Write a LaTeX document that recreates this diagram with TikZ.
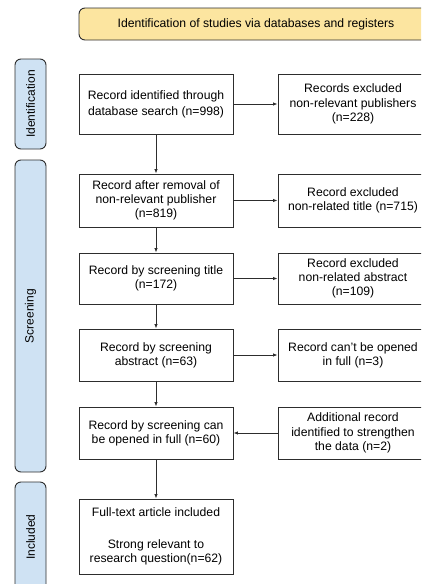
\documentclass[tikz,border=0pt]{standalone}
\usepackage{fontspec}
\setmainfont{Liberation Sans}
\usepackage{tikz}
\usetikzlibrary{positioning,arrows.meta}
\definecolor{hdryellow}{RGB}{252,229,160}
\definecolor{sideblue}{RGB}{207,226,243}
\definecolor{linegray}{RGB}{45,45,45}
\tikzset{
  box/.style={draw=linegray, line width=0.9pt, fill=white, align=center, minimum width=154pt, inner sep=2pt, font=\fontsize{12.2}{14.2}\selectfont},
  rbox/.style={box, minimum width=150pt},
  side/.style={rounded corners=6pt, draw=linegray, line width=0.9pt, fill=sideblue, minimum height=31pt, rotate=90, font=\fontsize{12}{14}\selectfont},
  hdr/.style={rounded corners=6pt, draw=linegray, line width=0.9pt, fill=hdryellow, minimum width=354pt, minimum height=32pt, font=\fontsize{12.2}{14}\selectfont},
  arr/.style={-{Latex[length=4.5pt,width=3.5pt]}, line width=0.8pt, draw=linegray},
}
\begin{document}
\begin{tikzpicture}[x=1pt,y=-1pt]
    \useasboundingbox (0,0) rectangle (421,584);
    \clip (0,0) rectangle (421,584);
    % header + phase labels
    \node[hdr] (head) at (256,24) {Identification of studies via databases and registers};
    \node[side, minimum width=90pt]  (lid)  at (30.5,104) {Identification};
    \node[side, minimum width=312pt] (lscr) at (30.5,316) {Screening};
    \node[side, minimum width=110pt] (linc) at (30.5,537) {Included};
    % main column
    \node[box, minimum height=60pt] (found)  at (156,104)   {Record identified through\\[2pt]database search (n=998)};
    \node[box, minimum height=53pt] (nopub)  at (156,200.5) {Record after removal of\\non-relevant publisher\\(n=819)};
    \node[box, minimum height=51pt] (title)  at (156,278.5) {Record by screening title\\(n=172)};
    \node[box, minimum height=52pt] (abstr)  at (156,355)   {Record by screening\\abstract (n=63)};
    \node[box, minimum height=52pt] (full)   at (156,433)   {Record by screening can\\be opened in full (n=60)};
    \node[box, minimum height=75pt] (incl)   at (156,536.5) {Full-text article included\\[17pt]Strong relevant to\\research question(n=62)};
    % side column
    \node[rbox, minimum height=60pt] (expub)   at (353,104)   {Records excluded\\non-relevant publishers\\(n=228)};
    \node[rbox, minimum height=53pt] (extitle) at (353,200.5) {Record excluded\\non-related title (n=715)};
    \node[rbox, minimum height=51pt] (exabs)   at (353,278.5) {Record excluded\\non-related abstract\\(n=109)};
    \node[rbox, minimum height=52pt] (exfull)  at (353,355)   {Record can't be opened\\in full (n=3)};
    \node[rbox, minimum height=52pt] (extra)   at (353,433)   {Additional record\\identified to strengthen\\the data (n=2)};
    % arrows
    \draw[arr] (found) -- (nopub);
    \draw[arr] (nopub) -- (title);
    \draw[arr] (title) -- (abstr);
    \draw[arr] (abstr) -- (full);
    \draw[arr] (full) -- (incl);
    \draw[arr] (found) -- (expub);
    \draw[arr] (nopub) -- (extitle);
    \draw[arr] (title) -- (exabs);
    \draw[arr] (abstr) -- (exfull);
    \draw[arr] (extra) -- (full);
\end{tikzpicture}
\end{document}
